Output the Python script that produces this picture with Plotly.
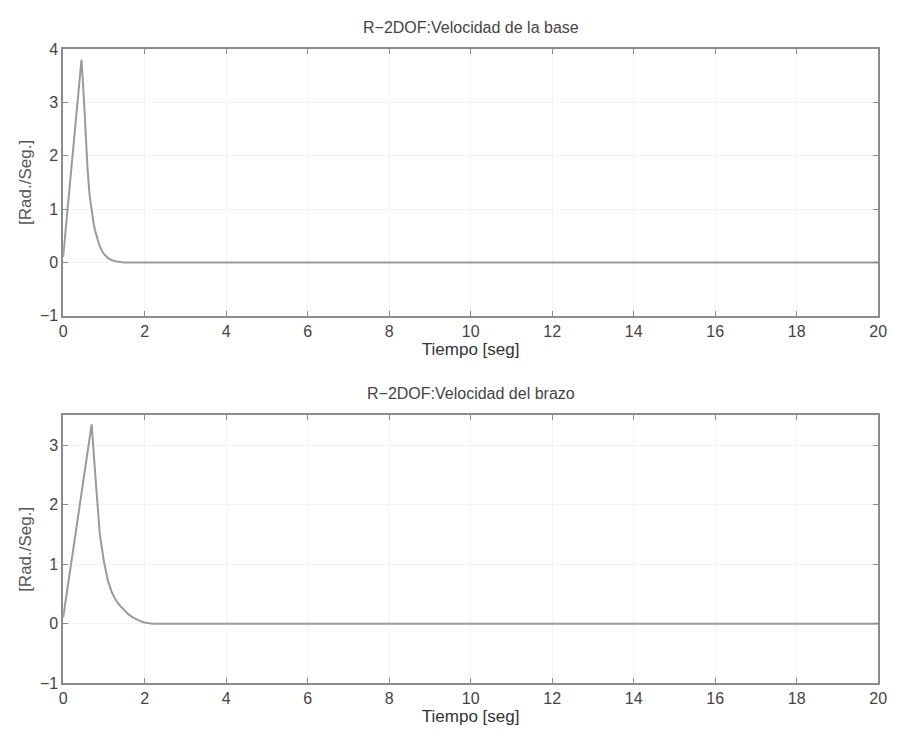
import plotly.graph_objects as go
from plotly.subplots import make_subplots

# Data
t_base = [0, 0.45, 0.5, 0.55, 0.6, 0.65, 0.7, 0.75, 0.8, 0.85, 0.9, 0.95, 1.0, 1.1, 1.2, 1.3, 1.4, 1.5, 20]
v_base = [0.1, 3.8, 3.2, 2.45, 1.75, 1.25, 0.95, 0.72, 0.55, 0.41, 0.3, 0.22, 0.16, 0.08, 0.04, 0.02, 0.01, 0.0, 0.0]

t_brazo = [0, 0.7, 0.8, 0.9, 1.0, 1.05, 1.1, 1.2, 1.3, 1.4, 1.5, 1.6, 1.7, 1.8, 1.9, 2.0, 2.2, 20]
v_brazo = [0.1, 3.35, 2.4, 1.5, 1.05, 0.86, 0.72, 0.52, 0.39, 0.3, 0.23, 0.16, 0.11, 0.07, 0.04, 0.02, 0.0, 0.0]

titles = ["R\u22122DOF:Velocidad de la base", "R\u22122DOF:Velocidad del brazo"]
x_ticks = [0, 2, 4, 6, 8, 10, 12, 14, 16, 18, 20]
y_ticks_top = [-1, 0, 1, 2, 3, 4]
y_ticks_bot = [-1, 0, 1, 2, 3]

W, H = 899, 744
fig = make_subplots(rows=2, cols=1)

line_col = "#9a9a9a"
axis_col = "#8c8c8c"
FAM = "Liberation Sans, Arial"
font = dict(family=FAM, size=16, color="#444444")

fig.add_trace(go.Scatter(x=t_base, y=v_base, mode="lines", line=dict(color=line_col, width=2), showlegend=False), row=1, col=1)
fig.add_trace(go.Scatter(x=t_brazo, y=v_brazo, mode="lines", line=dict(color=line_col, width=2), showlegend=False), row=2, col=1)

xd = [60 / W, 887 / W]
dom_top = [(H - 315) / H, (H - 42) / H]
dom_bot = [(H - 691) / H, (H - 417) / H]

common_x = dict(range=[0, 20], tickvals=x_ticks, ticks="inside", ticklen=5, tickcolor=axis_col,
                showline=True, linecolor=axis_col, linewidth=1.5, mirror="ticks",
                showgrid=True, gridcolor="#f3f3f3", gridwidth=1, zeroline=False,
                tickfont=font, domain=xd,
                title=dict(text="Tiempo [seg]", font=dict(family=FAM, size=17, color="#333333"), standoff=2))
common_y = dict(ticks="inside", ticklen=5, tickcolor=axis_col,
                showline=True, linecolor=axis_col, linewidth=1.5, mirror="ticks",
                showgrid=True, gridcolor="#f3f3f3", gridwidth=1, zeroline=False,
                tickfont=font,
                title=dict(text="[Rad./Seg.]", font=dict(family=FAM, size=17, color="#555555"), standoff=4))

fig.update_xaxes(**common_x)
fig.update_yaxes(**common_y)
fig.update_yaxes(range=[-1, 4], tickvals=y_ticks_top, domain=dom_top, row=1, col=1)
fig.update_yaxes(range=[-1, 3.5], tickvals=y_ticks_bot, domain=dom_bot, row=2, col=1)

for i, (ttl, yd) in enumerate(zip(titles, [dom_top, dom_bot])):
    fig.add_annotation(text=ttl, x=(xd[0] + xd[1]) / 2, y=yd[1], xref="paper", yref="paper",
                       xanchor="center", yanchor="bottom", yshift=11, showarrow=False,
                       font=dict(family=FAM, size=16, color="#444444"))

fig.update_layout(width=W, height=H, margin=dict(l=0, r=0, t=0, b=0),
                  plot_bgcolor="white", paper_bgcolor="white")

fig.write_html("out.html")
